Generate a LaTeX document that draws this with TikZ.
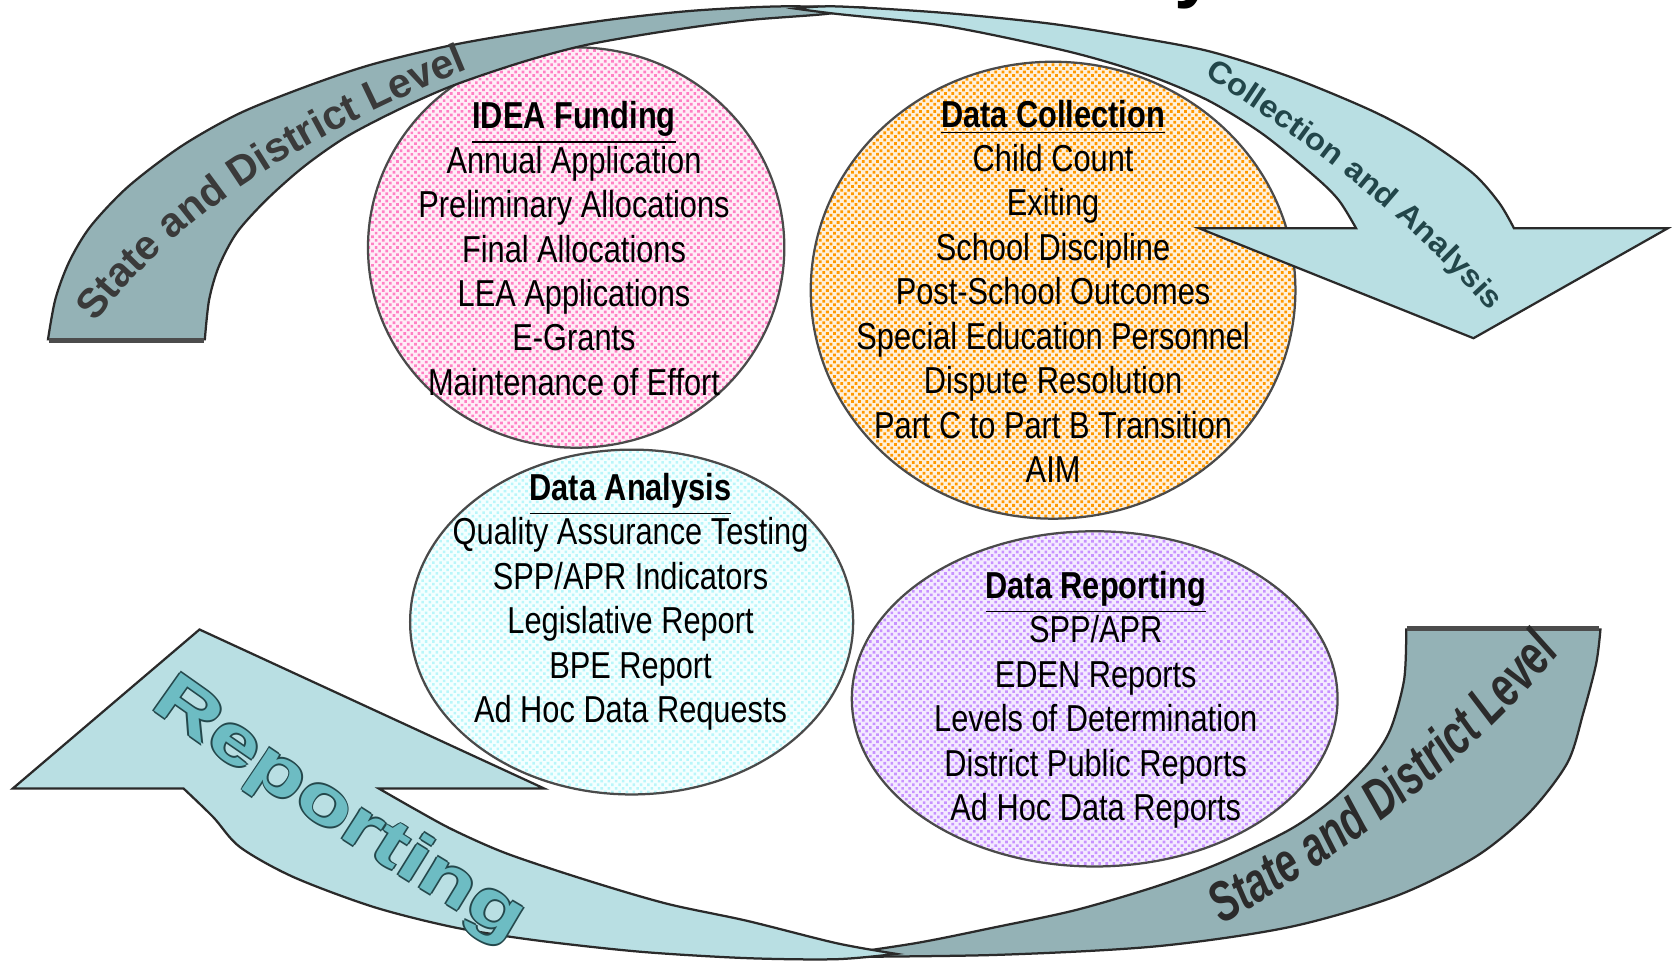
\documentclass[tikz,border=0pt]{standalone}
\usepackage{fontspec}
\setmainfont{Liberation Sans}
\newfontfamily\bodyfont[FakeStretch=0.82]{Liberation Sans}
\newfontfamily\tlfont{Liberation Sans}
\newfontfamily\trfont[FakeStretch=1.07]{Liberation Sans}
\newfontfamily\repfont[FakeStretch=1.35]{Liberation Sans}
\newfontfamily\brfont[FakeStretch=0.7]{Liberation Sans}
\usetikzlibrary{shapes.geometric,decorations.text,patterns.meta}
\definecolor{bandDark}{HTML}{94B2B6}
\definecolor{bandLight}{HTML}{B9DFE3}
\definecolor{edgeC}{HTML}{2A2A2A}
\definecolor{pinkDot}{HTML}{FF80C4}
\definecolor{pinkBase}{HTML}{FFEEF7}
\definecolor{orgDot}{HTML}{FF9900}
\definecolor{orgBase}{HTML}{FFF1DC}
\definecolor{cyanDot}{HTML}{B8F6FA}
\definecolor{cyanBase}{HTML}{F4FFFF}
\definecolor{purDot}{HTML}{C792FF}
\definecolor{purBase}{HTML}{F4EBFF}
\definecolor{repTeal}{HTML}{6DBCC3}
\definecolor{repEdge}{HTML}{24484C}
\definecolor{tlText}{HTML}{3A3A3A}
\definecolor{trText}{HTML}{22464A}
\definecolor{brText}{HTML}{2B2B2B}
\newcommand{\hd}[1]{\underline{\textbf{#1}}}
\tikzset{
  blob/.style={ellipse, draw=edgeC!85, line width=0.6pt, inner sep=0pt},
  listtxt/.style={align=center, inner sep=0pt, font=\bodyfont\fontsize{10}{11.85}\selectfont},
  band/.style={draw=edgeC, line width=0.6pt, line join=miter},
  baseshade/.style={draw=black!70, line width=1.4pt},
}
\begin{document}
\begin{tikzpicture}[x=0.01cm, y=-0.01cm]
\useasboundingbox (0,0) rectangle (1568,900);
\fill[white] (0,0) rectangle (1568,900);

% title fragment (cut off at the top edge)
\node[anchor=base west, inner sep=0pt, font=\fontsize{20}{20}\selectfont\bfseries] (ttl) at (1100,-6) {y};

% ellipses
\node[blob, preaction={fill=pinkBase}, pattern={Dots[radius=0.5pt,distance=1.35pt,angle=45]}, pattern color=pinkDot, minimum width=3.9cm, minimum height=3.75cm] (fund) at (540,232) {};
\node[blob, preaction={fill=orgBase}, pattern={Dots[radius=0.52pt,distance=1.35pt,angle=45]}, pattern color=orgDot, minimum width=4.54cm, minimum height=4.28cm] (coll) at (987,272) {};
\node[blob, preaction={fill=cyanBase}, pattern={Dots[radius=0.48pt,distance=1.35pt,angle=45]}, pattern color=cyanDot, minimum width=4.15cm, minimum height=3.23cm] (anal) at (592,583) {};
\node[blob, preaction={fill=purBase}, pattern={Dots[radius=0.5pt,distance=1.35pt,angle=45]}, pattern color=purDot, minimum width=4.55cm, minimum height=3.14cm] (rept) at (1026,655) {};

% ellipse texts
\node[listtxt] (fundtxt) at (538,233) {\hd{IDEA Funding}\\Annual Application\\Preliminary Allocations\\Final Allocations\\LEA Applications\\E-Grants\\Maintenance of Effort};
\node[listtxt] (colltxt) at (987,273) {\hd{Data Collection}\\Child Count\\Exiting\\School Discipline\\Post-School Outcomes\\Special Education Personnel\\Dispute Resolution\\Part C to Part B Transition\\AIM};
\node[listtxt] (analtxt) at (591,564) {\hd{Data Analysis}\\Quality Assurance Testing\\SPP/APR Indicators\\Legislative Report\\BPE Report\\Ad Hoc Data Requests};
\node[listtxt] (repttxt) at (1027,656) {\hd{Data Reporting}\\SPP/APR\\EDEN Reports\\Levels of Determination\\District Public Reports\\Ad Hoc Data Reports};

% top-left dark band
\filldraw[band, fill=bandDark] (45,318)
  -- plot[smooth, tension=0.5] coordinates {(45,318) (52,280) (65,245) (85,212) (120,175) (170,137) (225,106) (290,80) (350,60) (425,42) (500,29) (575,18) (650,10) (730,6) (805,7)}
  -- plot[smooth, tension=0.5] coordinates {(805,7) (775,13) (700,19) (625,29) (550,42) (490,58) (425,80) (375,102) (325,128) (285,156) (250,187) (222,218) (205,250) (196,281) (192,318)}
  -- cycle;
\draw[baseshade] (46,319) -- (191,319);

% top-right light band with head
\filldraw[band, fill=bandLight] (745,8)
  -- plot[smooth, tension=0.5] coordinates {(745,8) (784,6) (884,12) (983,22) (1059,34) (1133,48) (1209,72) (1284,103) (1333,129) (1380,162) (1405,190) (1419,214)}
  -- (1563,214) -- (1381,317) -- (1124,214) -- (1271,214)
  -- plot[smooth, tension=0.5] coordinates {(1271,214) (1255,188) (1233,166) (1184,126) (1134,95) (1083,73) (1034,57) (983,44) (884,24) (784,13) (745,8)}
  -- cycle;

% bottom-right dark band
\filldraw[band, fill=bandDark] (1318,590) -- (1500,590)
  -- plot[smooth, tension=0.5] coordinates {(1500,590) (1496,622) (1484,668) (1469,715) (1433,762) (1383,803) (1308,840) (1208,869) (1083,887) (933,895) (770,897)}
  -- plot[smooth, tension=0.5] coordinates {(770,897) (858,884) (933,869) (1008,853) (1083,831) (1143,809) (1208,778) (1248,750) (1283,715) (1303,684) (1316,637) (1318,590)}
  -- cycle;
\draw[baseshade] (1319,589) -- (1499,589);

% bottom-left light band with head
\filldraw[band, fill=bandLight] (840,894)
  -- plot[smooth, tension=0.5] coordinates {(840,894) (784,899) (700,898) (600,892) (500,881) (425,869) (350,850) (275,822) (225,794) (200,766) (172,739)}
  -- (12,739) -- (187,590) -- (510,739) -- (355,739)
  -- plot[smooth, tension=0.5] coordinates {(355,739) (390,759) (425,778) (475,800) (550,825) (625,847) (700,863) (784,884) (840,894)}
  -- cycle;

% band texts
\path[decorate, decoration={text along path, text align=center,
  text={|\tlfont\fontsize{11}{12}\selectfont\bfseries\color{tlText}|State and District Level}}]
  (70,330) .. controls (148,212) and (272,130) .. (470,52);

\path[decorate, decoration={text along path, text align=center,
  text={|\trfont\fontsize{8.2}{9}\selectfont\bfseries\color{trText}|Collection and Analysis}}]
  (1092,48) .. controls (1212,122) and (1322,200) .. (1425,325);

\foreach \dx/\dy in {0.5/0,-0.5/0,0/0.5,0/-0.5}{
  \path[xshift=\dx pt, yshift=\dy pt, decorate, decoration={text along path, text align=center,
    text={|\repfont\fontsize{18}{18}\selectfont\bfseries\color{repEdge}|Reporting}}]
    (115,645) .. controls (240,735) and (355,812) .. (505,898);
}
\path[decorate, decoration={text along path, text align=center,
  text={|\repfont\fontsize{18}{18}\selectfont\bfseries\color{repTeal}|Reporting}}]
  (115,645) .. controls (240,735) and (355,812) .. (505,898);

\path[decorate, decoration={text along path, text align=center,
  text={|\brfont\fontsize{15}{15}\selectfont\bfseries\itshape\color{brText}|State and District Level}}]
  (1112,886) .. controls (1242,813) and (1377,724) .. (1487,581);

\end{tikzpicture}
\end{document}
